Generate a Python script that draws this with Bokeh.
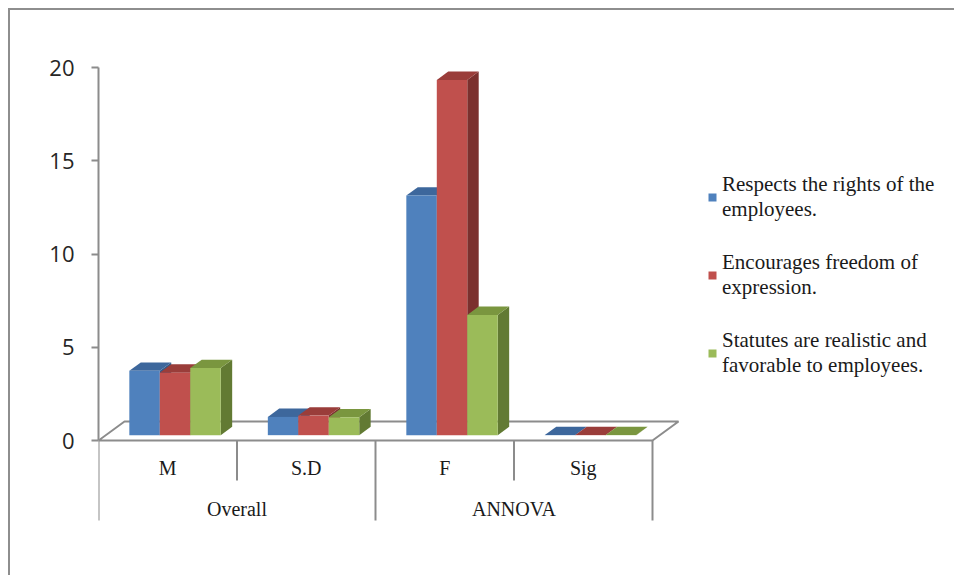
from bokeh.plotting import figure
from bokeh.models import Range1d, FixedTicker, Legend, LegendItem, ColumnDataSource
from bokeh.core.properties import value
from bokeh.embed import file_html
from bokeh.resources import INLINE

# ---------------- data ----------------
categories = ["M", "S.D", "F", "Sig"]
groups = ["Overall", "ANNOVA"]
group_spans = [2, 2]
series = [
    "Respects the rights of the\nemployees.",
    "Encourages freedom of\nexpression.",
    "Statutes are realistic and\nfavorable to employees.",
]
respects = [3.45, 0.98, 12.85, 0.01]
encourages = [3.35, 1.05, 19.05, 0.01]
statutes = [3.6, 0.96, 6.45, 0.01]
y_ticks = [0, 5, 10, 15, 20]

values = [respects, encourages, statutes]
front_col = ["#4f81bd", "#c0504d", "#9bbb59"]
top_col = ["#3d679c", "#9a3d3a", "#7a963f"]
side_col = ["#345a87", "#7b302e", "#627a33"]

# ---------------- geometry (pixel scale) ----------------
W, H = 946, 567
LEFT = 88
ZERO_FROM_TOP = 430
K = 18.65          # px per value unit
CW = 138.5         # px per category
frame_w = W - LEFT
y_start = -(H - ZERO_FROM_TOP) / K
y_end = ZERO_FROM_TOP / K
x_end = frame_w / CW

DX = 26 / CW       # floor depth in data units
DY = 19 / K
F1, F2 = 0.28, 0.72
BW = 0.22
G0 = 0.5 - 1.5 * BW

p = figure(width=W, height=H, output_backend="svg", toolbar_location=None,
           x_range=Range1d(0, x_end), y_range=Range1d(y_start, y_end),
           x_axis_type=None, min_border_left=LEFT, min_border_right=0,
           min_border_top=0, min_border_bottom=0,
           styles={"margin-left": "8px", "margin-top": "8px",
                   "border-left": "2px solid #8e8e8e", "border-top": "2px solid #8e8e8e"})
p.grid.visible = False
p.outline_line_color = None
p.background_fill_color = "white"
p.border_fill_color = "white"

# y axis
ax = p.yaxis[0]
ax.bounds = (0, 20)
ax.ticker = FixedTicker(ticks=y_ticks)
ax.minor_tick_line_color = None
ax.major_tick_in = 0
ax.major_tick_out = 7
ax.axis_line_color = "#8c8c8c"
ax.axis_line_width = 2
ax.major_tick_line_color = "#8c8c8c"
ax.major_tick_line_width = 2
ax.major_label_standoff = 17
ax.major_label_text_font = "Open Sans"
ax.major_label_text_font_size = "22px"
ax.major_label_text_color = "#262626"

n = len(categories)
# floor
p.patch(x=[0, n, n + DX, DX], y=[0, 0, DY, DY], fill_color="white",
        line_color="#8c8c8c", line_width=2)

# category separator lines
sep_x = list(range(n + 1))
bounds_g = [0]
for s in group_spans:
    bounds_g.append(bounds_g[-1] + s)
sep_y = [-4.29 if x in bounds_g else -2.14 for x in sep_x]
p.segment(x0=sep_x, y0=[0] * len(sep_x), x1=sep_x, y1=sep_y,
          line_color="#8c8c8c", line_width=2)

# bars (painted left to right)
fdx, fdy = F1 * DX, F1 * DY
bdx, bdy = F2 * DX, F2 * DY
front_r = [None] * 3
for i in range(n):
    for j in range(3):
        v = values[j][i]
        x0 = i + G0 + j * BW
        x1 = x0 + BW
        p.patch(x=[x1 + fdx, x1 + bdx, x1 + bdx, x1 + fdx],
                y=[fdy, bdy, v + bdy, v + fdy], fill_color=side_col[j], line_color=None)
        p.patch(x=[x0 + fdx, x1 + fdx, x1 + bdx, x0 + bdx],
                y=[v + fdy, v + fdy, v + bdy, v + bdy], fill_color=top_col[j], line_color=None)
for j in range(3):
    src = ColumnDataSource(dict(
        left=[i + G0 + j * BW + fdx for i in range(n)],
        right=[i + G0 + (j + 1) * BW + fdx for i in range(n)],
        bottom=[fdy] * n,
        top=[values[j][i] + fdy for i in range(n)],
    ))
    front_r[j] = p.quad(left="left", right="right", bottom="bottom", top="top",
                        source=src, fill_color=front_col[j], line_color=None)

# category labels
p.text(x=[i + 0.5 for i in range(n)], y=[-1.5] * n, text=categories,
       text_font=value("Liberation Serif"), text_font_size="20px",
       text_align="center", text_baseline="middle", text_color="#1a1a1a")
gx = [(bounds_g[k] + bounds_g[k + 1]) / 2 for k in range(len(groups))]
p.text(x=gx, y=[-3.65] * len(groups), text=groups,
       text_font=value("Liberation Serif"), text_font_size="20px",
       text_align="center", text_baseline="middle", text_color="#1a1a1a")

legend = Legend(items=[LegendItem(label=series[j], renderers=[front_r[j]]) for j in range(3)],
                location=(609, 199), orientation="vertical",
                glyph_width=10, glyph_height=10,
                label_text_font="Liberation Serif", label_text_font_size="21px",
                label_text_line_height=1.1,
                label_text_color="#1a1a1a", label_standoff=5,
                spacing=28, padding=0, margin=0,
                border_line_color=None, background_fill_alpha=0)
p.add_layout(legend)

open("out.html", "w").write(file_html(p, INLINE))
